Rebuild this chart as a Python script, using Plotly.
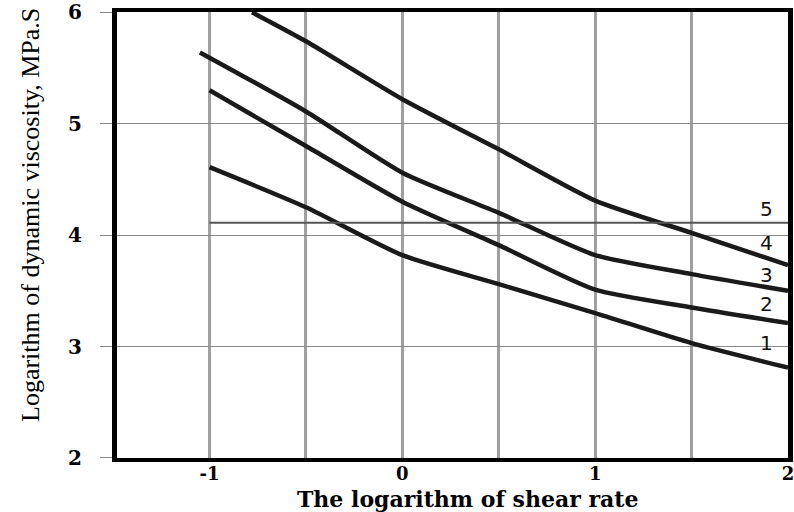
import plotly.graph_objects as go

x1 = [-1.0, -0.5, 0.0, 0.5, 1.0, 1.5, 2.0]
y1 = [4.61, 4.25, 3.82, 3.56, 3.30, 3.03, 2.81]
x2 = [-1.0, -0.5, 0.0, 0.5, 1.0, 1.5, 2.0]
y2 = [5.30, 4.80, 4.30, 3.91, 3.51, 3.35, 3.21]
x3 = [-1.05, -0.5, 0.0, 0.5, 1.0, 1.5, 2.0]
y3 = [5.64, 5.11, 4.56, 4.20, 3.82, 3.65, 3.50]
x4 = [-0.78, -0.5, 0.0, 0.5, 1.0, 1.5, 2.0]
y4 = [6.0, 5.74, 5.22, 4.77, 4.31, 4.02, 3.73]
x5 = [-1.0, 2.0]
y5 = [4.11, 4.11]

curve_labels = ["1", "2", "3", "4", "5"]
label_x = [1.89, 1.89, 1.89, 1.89, 1.89]
label_y = [3.03, 3.38, 3.64, 3.93, 4.23]

x_tickvals = [-1.0, -0.5, 0.0, 0.5, 1.0, 1.5, 2.0]
x_ticktext = ["-1", "", "0", "", "1", "", "2"]
y_tickvals = [2, 3, 4, 5, 6]
y_ticktext = ["2", "3", "4", "5", "6"]

x_title = "The logarithm of shear rate"
y_title = "Logarithm of dynamic viscosity, MPa.S"

fig = go.Figure()
for xs, ys in [(x1, y1), (x2, y2), (x3, y3), (x4, y4)]:
    fig.add_trace(go.Scatter(x=xs, y=ys, mode="lines",
                             line=dict(color="#1a1a1a", width=4.5, shape="spline", smoothing=0.6),
                             showlegend=False, hoverinfo="skip"))
fig.add_trace(go.Scatter(x=x5, y=y5, mode="lines",
                         line=dict(color="#555555", width=2),
                         showlegend=False, hoverinfo="skip"))

for t, lx, ly in zip(curve_labels, label_x, label_y):
    fig.add_annotation(x=lx, y=ly, text=t, showarrow=False,
                       font=dict(family="DejaVu Sans", size=20, color="#111111"))

# axis titles as annotations (paper coords)
fig.add_annotation(xref="paper", yref="paper", x=(467 - 117) / (788 - 117), y=-(499 - 458) / (458 - 12),
                   text="<b>" + x_title + "</b>", showarrow=False, xanchor="center", yanchor="middle",
                   font=dict(family="DejaVu Serif", size=22, color="black"))
fig.add_annotation(xref="paper", yref="paper", x=-(117 - 30) / (788 - 117), y=(458 - 215) / (458 - 12),
                   text=y_title, showarrow=False, textangle=-90, xanchor="center", yanchor="middle",
                   font=dict(family="Liberation Serif", size=26, color="black"))

fig.update_layout(
    width=794, height=512,
    margin=dict(l=117, r=6, t=12, b=54, autoexpand=False),
    plot_bgcolor="white", paper_bgcolor="white",
    xaxis=dict(range=[-1.48, 2.0], tickvals=x_tickvals,
               ticktext=["<b>" + t + "</b>" if t else "" for t in x_ticktext],
               showgrid=True, gridcolor="#a0a0a0", gridwidth=3,
               showline=True, linecolor="black", linewidth=4, mirror=True,
               zeroline=False, ticks="", ticklen=0, automargin=False, ticklabeloverflow="allow",
               ticklabelstandoff=-4,
               tickfont=dict(family="DejaVu Serif", size=18, color="black")),
    yaxis=dict(range=[1.999, 6.003], tickvals=y_tickvals,
               ticktext=["<b>" + t + "</b>" for t in y_ticktext],
               showgrid=True, gridcolor="#8a8a8a", gridwidth=1,
               showline=True, linecolor="black", linewidth=5, mirror=True,
               zeroline=False, ticks="outside", ticklen=12, tickcolor="#8a8a8a", tickwidth=1,
               ticklabelstandoff=14, automargin=False, ticklabeloverflow="allow",
               tickfont=dict(family="DejaVu Serif", size=20, color="black")),
)

fig.write_html("out.html")
